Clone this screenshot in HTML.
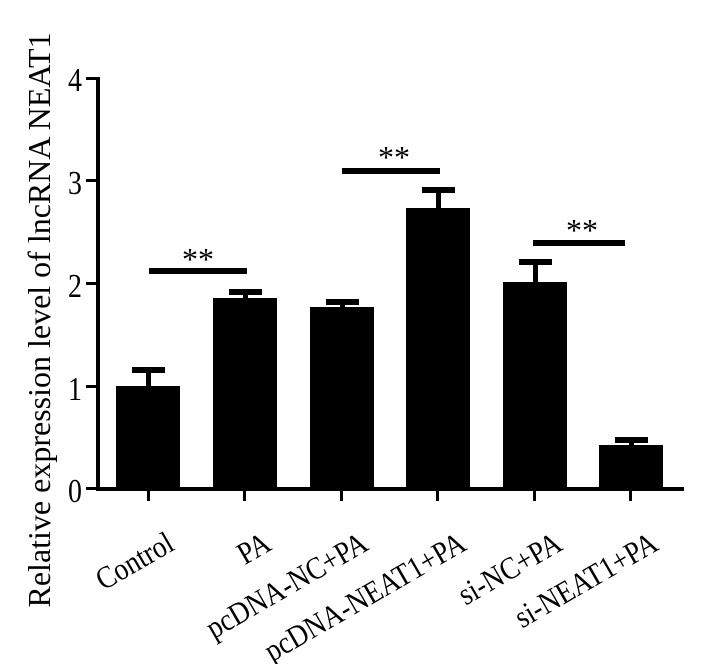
<!DOCTYPE html>
<html><head><style>body{margin:0;background:#fff}svg{display:block}</style></head>
<body>
<svg width="716" height="664" xmlns="http://www.w3.org/2000/svg" font-family="Liberation Serif, serif">
<rect width="716" height="664" fill="#fff"/>
<rect x="96" y="77" width="4" height="414" fill="#000"/>
<rect x="96" y="487" width="588" height="4" fill="#000"/>
<g fill="#000">
<rect x="86" y="77" width="12" height="3"/>
<rect x="86" y="179" width="12" height="3"/>
<rect x="86" y="282" width="12" height="3"/>
<rect x="86" y="385" width="12" height="3"/>
<rect x="86" y="487" width="12" height="3"/>
</g>
<g font-size="34" text-anchor="end">
<text transform="translate(82,91) scale(0.82,1)">4</text>
<text transform="translate(82,194) scale(0.82,1)">3</text>
<text transform="translate(82,297) scale(0.82,1)">2</text>
<text transform="translate(82,400) scale(0.82,1)">1</text>
<text transform="translate(82,502) scale(0.82,1)">0</text>
</g>
<text transform="translate(50,320) rotate(-90)" font-size="32" text-anchor="middle">Relative expression level of lncRNA NEAT1</text>
<g fill="#000">
<rect x="147" y="489" width="3" height="12"/>
<rect x="243" y="489" width="3" height="12"/>
<rect x="340" y="489" width="3" height="12"/>
<rect x="436" y="489" width="3" height="12"/>
<rect x="533" y="489" width="3" height="12"/>
<rect x="629" y="489" width="3" height="12"/>
</g>
<g fill="#000">
<rect x="116" y="386" width="64" height="103"/>
<rect x="146" y="369" width="5" height="18"/><rect x="132" y="367" width="33" height="6"/>
<rect x="213" y="298" width="64" height="191"/>
<rect x="243" y="291" width="5" height="8"/><rect x="229" y="289" width="33" height="6"/>
<rect x="310" y="307" width="64" height="182"/>
<rect x="340" y="301" width="5" height="7"/><rect x="326" y="299" width="33" height="6"/>
<rect x="406" y="208" width="64" height="281"/>
<rect x="436" y="189" width="5" height="20"/><rect x="422" y="187" width="33" height="6"/>
<rect x="503" y="282" width="64" height="207"/>
<rect x="533" y="262" width="5" height="21"/><rect x="519" y="259" width="33" height="6"/>
<rect x="599" y="445" width="64" height="44"/>
<rect x="629" y="440" width="5" height="6"/><rect x="615" y="437" width="33" height="6"/>
<rect x="149" y="268" width="98" height="6"/>
<rect x="342" y="168" width="98" height="6"/>
<rect x="533" y="240" width="92" height="6"/>
</g>
<g font-size="32" text-anchor="middle">
<text x="198" y="270">**</text>
<text x="394" y="168">**</text>
<text x="582" y="241">**</text>
</g>
<g font-size="28" text-anchor="end">
<text transform="translate(176,549) rotate(-30) scale(0.98,1.12)">Control</text>
<text transform="translate(273,549) rotate(-30) scale(0.98,1.12)">PA</text>
<text transform="translate(370,549) rotate(-30) scale(0.98,1.12)">pcDNA-NC+PA</text>
<text transform="translate(468,549) rotate(-30) scale(0.98,1.12)">pcDNA-NEAT1+PA</text>
<text transform="translate(564,549) rotate(-30) scale(0.98,1.12)">si-NC+PA</text>
<text transform="translate(660,549) rotate(-30) scale(0.98,1.12)">si-NEAT1+PA</text>
</g>
</svg>
</body></html>
